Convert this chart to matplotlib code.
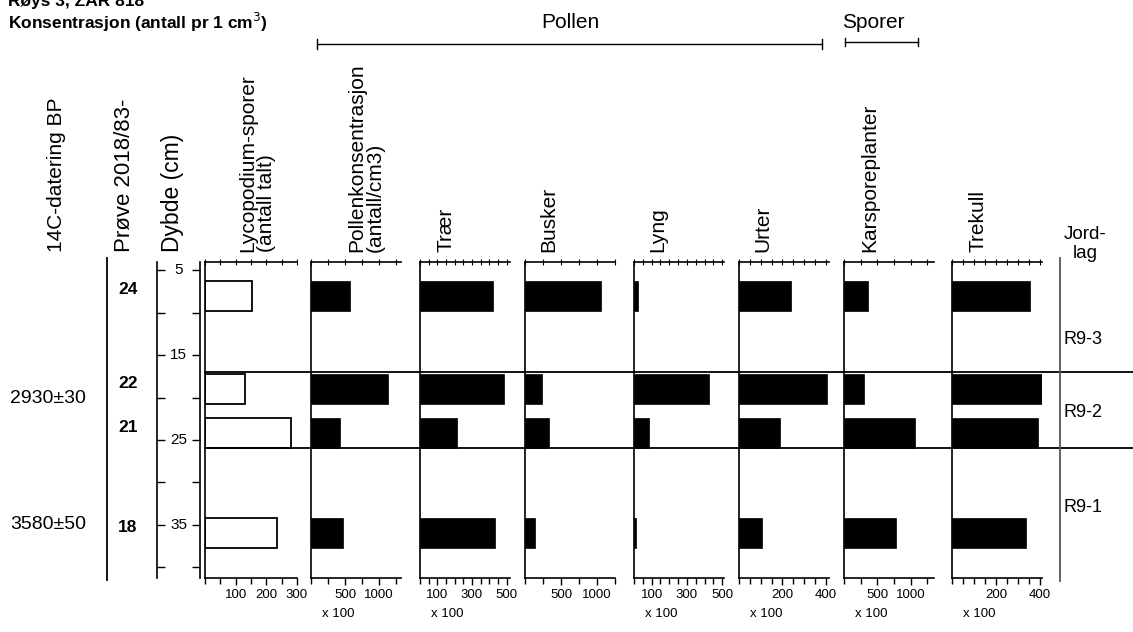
import matplotlib
matplotlib.use('Agg')
import matplotlib.pyplot as plt  # noqa
from matplotlib.lines import Line2D
from matplotlib.ticker import FixedLocator, MultipleLocator

plt.rcParams['font.family'] = ['Liberation Sans', 'DejaVu Sans']

W, H = 1133, 632
YLIM = (41.3, 4.0)

# samples (top to bottom)
samples = ['24', '22', '21', '18']
sample_depths = [8.0, 19.0, 24.2, 36.0]
bar_height = 3.6

dates = ['2930±30', '3580±50']
date_depths = [20.1, 35.0]

depth_major = [5, 15, 25, 35]
depth_minor = [10, 20, 30, 40]

zone_bounds = [17, 26]
zone_labels = ['R9-3', 'R9-2', 'R9-1']
zone_label_depths = [13.2, 21.8, 33.0]

# concentrations per sample
lycopodium = [153, 130, 280, 235]
pollen_conc = [578, 1127, 430, 475]
traer = [420, 485, 216, 432]
busker = [1053, 239, 337, 140]
lyng = [23, 423, 87, 12]
urter = [238, 405, 191, 107]
karsporeplanter = [364, 303, 1062, 774]
trekull = [355, 419, 392, 336]

# (label, values, xmax, labelled ticks, minor step, show "x 100", left px, label x px)
PANELS = [
    ('Lycopodium-sporer\n(antall talt)', lycopodium, 300, [100, 200, 300], 50, False, 205, 257),
    ('Pollenkonsentrasjon\n(antall/cm3)', pollen_conc, 1320, [500, 1000], 250, True, 311, 366),
    ('Trær', traer, 520, [100, 300, 500], 50, True, 420, 446),
    ('Busker', busker, 1250, [500, 1000], 250, False, 525, 549),
    ('Lyng', lyng, 510, [100, 300, 500], 50, True, 634, 658),
    ('Urter', urter, 415, [200, 400], 50, True, 739, 763),
    ('Karsporeplanter', karsporeplanter, 1350, [500, 1000], 250, True, 844, 870),
    ('Trekull', trekull, 410, [200, 400], 50, True, 952, 978),
]
PANEL_W = 90
PANEL_TOP, PANEL_BOT = 262, 578


def px_axes(fig, x0, y0, x1, y1):
    return fig.add_axes([x0 / W, 1 - y1 / H, (x1 - x0) / W, (y1 - y0) / H])


def ftext(fig, x, y, s, **kw):
    return fig.text(x / W, 1 - y / H, s, **kw)


def fline(fig, xs, ys, **kw):
    fig.add_artist(Line2D([x / W for x in xs], [1 - y / H for y in ys],
                          transform=fig.transFigure, color='black', **kw))


def plot_panel(ax, values, xmax, ticks, step, hollow):
    if hollow:
        ax.barh(sample_depths, values, height=bar_height, color='white',
                edgecolor='black', linewidth=1.3)
    else:
        ax.barh(sample_depths, values, height=bar_height, color='black',
                edgecolor='black', linewidth=0.5)
    ax.set_xlim(0, xmax)
    ax.set_ylim(*YLIM)
    ax.set_yticks([])
    for sp in ['right', 'top']:
        ax.spines[sp].set_visible(False)
    for sp in ['left', 'bottom']:
        ax.spines[sp].set_linewidth(1.2)
    ax.xaxis.set_major_locator(FixedLocator(ticks))
    ax.xaxis.set_minor_locator(MultipleLocator(step))
    ax.tick_params(axis='x', which='major', length=5, width=1, labelsize=9.5, pad=3)
    ax.tick_params(axis='x', which='minor', length=4, width=1)
    # top axis: ticks only
    sec = ax.secondary_xaxis('top')
    sec.xaxis.set_major_locator(FixedLocator(ticks))
    sec.xaxis.set_minor_locator(MultipleLocator(step))
    sec.tick_params(which='both', direction='inout', length=4, width=0.8, labeltop=False)
    sec.spines['top'].set_linewidth(1.2)


def main():
    fig = plt.figure(figsize=(W / 100, H / 100), dpi=100)

    # cut-off title and subtitle
    ftext(fig, 8, 6, 'Røys 3, ZAR 818', fontsize=12.5, fontweight='bold', va='baseline')
    ftext(fig, 8, 22, 'Konsentrasjon (antall pr 1 cm$^3$)', fontsize=12.5,
          fontweight='bold', va='center')

    # group brackets
    ftext(fig, 570, 22, 'Pollen', fontsize=15, ha='center', va='center')
    fline(fig, [317, 822], [44, 44], lw=1)
    fline(fig, [317, 317], [39, 49], lw=1)
    fline(fig, [822, 822], [39, 49], lw=1)
    ftext(fig, 873, 22, 'Sporer', fontsize=15, ha='center', va='center')
    fline(fig, [845, 918], [42, 42], lw=1)
    fline(fig, [845, 845], [38, 46], lw=1)
    fline(fig, [918, 918], [38, 46], lw=1)

    # left column headers
    for x, s, fs in [(57, '14C-datering BP', 15), (125, 'Prøve 2018/83-', 16),
                     (173, 'Dybde (cm)', 16.5)]:
        ftext(fig, x, 252, s, fontsize=fs, rotation=90, ha='center', va='bottom')
    ftext(fig, 1085, 244, 'Jord-\nlag', fontsize=13.5, ha='center', va='center',
          linespacing=1.15)

    # panels
    for i, (label, values, xmax, ticks, step, x100, left, lx) in enumerate(PANELS):
        ax = px_axes(fig, left, PANEL_TOP, left + PANEL_W + (2 if i == 0 else 0), PANEL_BOT)
        plot_panel(ax, values, xmax, ticks, step, hollow=(i == 0))
        ftext(fig, lx, 252, label, fontsize=15, rotation=90, ha='center',
              va='bottom', multialignment='left', linespacing=1.0)
        if x100:
            ax.text(0.3, -0.115, 'x 100', transform=ax.transAxes, fontsize=9.5,
                    ha='center', va='center')

    # depth axis
    dax = px_axes(fig, 157, PANEL_TOP, 200, PANEL_BOT)
    dax.set_ylim(*YLIM)
    dax.set_xlim(0, 1)
    dax.set_xticks([])
    for sp in ['top', 'bottom']:
        dax.spines[sp].set_visible(False)
    for sp in ['left', 'right']:
        dax.spines[sp].set_linewidth(1.2)
    dax.yaxis.set_major_locator(FixedLocator(depth_major))
    dax.yaxis.set_minor_locator(FixedLocator(depth_minor))
    dax.tick_params(axis='y', which='both', direction='in', left=True, right=True,
                    length=6, width=1, labelleft=False)
    for d in depth_major:
        dax.text(0.5, d, str(d), fontsize=11, ha='center', va='center')
    dax.patch.set_alpha(0)

    # overlay in pixel x / depth y
    ov = px_axes(fig, 0, PANEL_TOP, W, PANEL_BOT)
    ov.set_xlim(0, W)
    ov.set_ylim(*YLIM)
    ov.axis('off')
    for b in zone_bounds:
        ov.plot([205, W], [b, b], color='black', lw=1.3, clip_on=False)
    ov.plot([107, 107], [3.5, 41.5], color='black', lw=1.3, clip_on=False)
    ov.plot([1060, 1060], [3.5, 41.6], color='#555555', lw=1.3, clip_on=False)
    for s, d in zip(samples, sample_depths):
        ov.text(128, d - 0.7, s, fontsize=12.5, fontweight='bold', ha='center', va='center')
    for s, d in zip(dates, date_depths):
        ov.text(48, d, s, fontsize=14, ha='center', va='center')
    for s, d in zip(zone_labels, zone_label_depths):
        ov.text(1083, d, s, fontsize=13, ha='center', va='center')

    plt.savefig('out.png', dpi=100, facecolor='white')
    plt.close()


if __name__ == '__main__':
    main()
